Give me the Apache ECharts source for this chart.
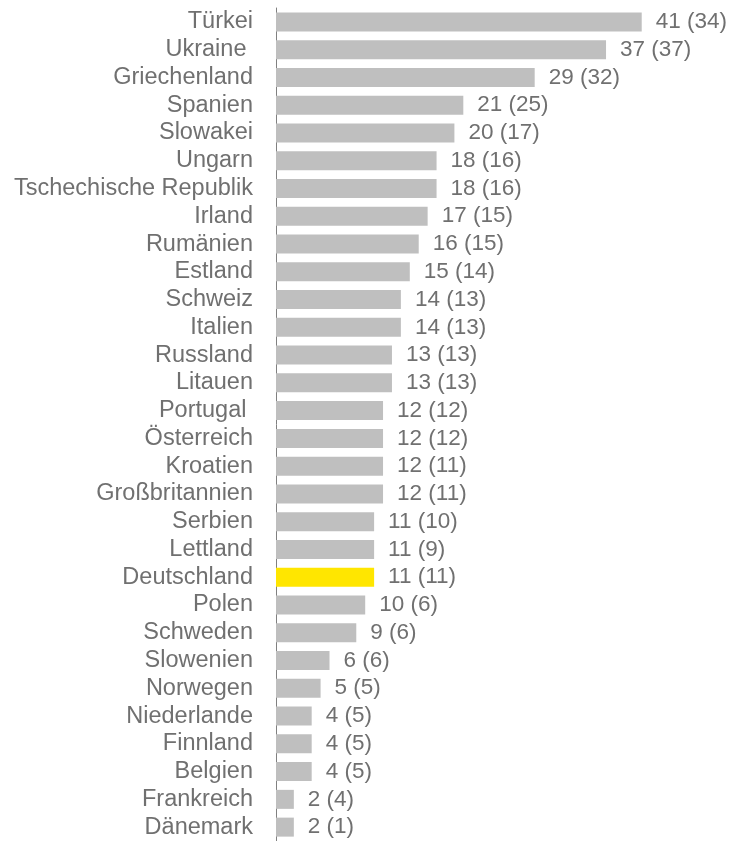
<!DOCTYPE html>
<html>
<head>
<meta charset="utf-8">
<script src="https://cdn.jsdelivr.net/npm/echarts@6/dist/echarts.min.js"></script>
<style>
  html, body { margin: 0; padding: 0; background: #fff; }
  #chart { width: 737px; height: 841px; }
</style>
</head>
<body>
<div id="chart"></div>
<script>
// Länder, Wert aktuell und Vorjahr (in Klammern)
var countries = ['Türkei', 'Ukraine ', 'Griechenland', 'Spanien', 'Slowakei', 'Ungarn',
	'Tschechische Republik', 'Irland', 'Rumänien', 'Estland', 'Schweiz', 'Italien',
	'Russland', 'Litauen', 'Portugal ', 'Österreich', 'Kroatien', 'Großbritannien',
	'Serbien', 'Lettland', 'Deutschland', 'Polen', 'Schweden', 'Slowenien', 'Norwegen',
	'Niederlande', 'Finnland', 'Belgien', 'Frankreich', 'Dänemark'];
var values = [41, 37, 29, 21, 20, 18, 18, 17, 16, 15, 14, 14, 13, 13, 12, 12, 12, 12,
	11, 11, 11, 10, 9, 6, 5, 4, 4, 4, 2, 2];
var previous = [34, 37, 32, 25, 17, 16, 16, 15, 15, 14, 13, 13, 13, 13, 12, 12, 11, 11,
	10, 9, 11, 6, 6, 6, 5, 5, 5, 5, 4, 1];
var highlight = 'Deutschland';

var chart = echarts.init(document.getElementById('chart'));

var barData = [];
for (var i = 0; i < values.length; i++) {
	barData.push({
		value: values[i],
		itemStyle: { color: countries[i] === highlight ? '#FFE600' : '#BFBFBF' }
	});
}

var option = {
	animation: false,
	grid: { left: 276, top: 8, width: 446, height: 834 },
	xAxis: {
		type: 'value',
		min: 0,
		max: 50,
		show: false
	},
	yAxis: {
		type: 'category',
		inverse: true,
		data: countries,
		axisLine: { show: true, lineStyle: { color: '#808080', width: 1 } },
		axisTick: { show: false },
		axisLabel: {
			interval: 0,
			margin: 23,
			padding: [3, 0, 0, 0],
			color: '#707070',
			fontFamily: 'Liberation Sans, Arial, sans-serif',
			fontSize: 23.5
		}
	},
	series: [{
		type: 'bar',
		data: barData,
		barWidth: 19,
		label: {
			show: true,
			position: 'right',
			distance: 14,
			padding: [3, 0, 0, 0],
			color: '#707070',
			fontFamily: 'Liberation Sans, Arial, sans-serif',
			fontSize: 22.5,
			formatter: function (p) {
				return values[p.dataIndex] + ' (' + previous[p.dataIndex] + ')';
			}
		}
	}]
};
chart.setOption(option);
</script>
</body>
</html>
